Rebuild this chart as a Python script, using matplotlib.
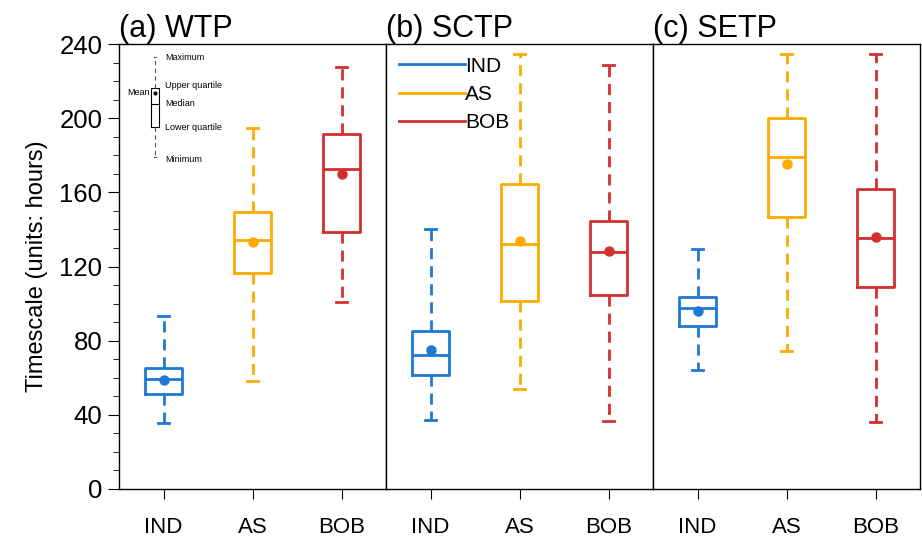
import numpy as np
from matplotlib import pyplot as plt
from matplotlib.lines import Line2D

plt.rcParams.update({
    "font.family": ["Liberation Sans", "DejaVu Sans"],
    "axes.linewidth": 1.0,
    "xtick.direction": "out",
    "ytick.direction": "out",
})

categories = ["IND", "AS", "BOB"]
colors = ["#1f78d2", "#ffaa00", "#d42f2f"]
panel_titles = ["(a) WTP", "(b) SCTP", "(c) SETP"]

# per panel, per category (IND, AS, BOB)
whis_hi = [[93.5, 194.9, 227.6], [140.2, 234.5, 228.7], [129.3, 234.5, 234.5]]
q3 = [[65.1, 149.6, 191.3], [85.4, 164.5, 144.7], [103.4, 200.0, 162.0]]
medians = [[59.2, 134.3, 172.4], [72.3, 132.0, 127.7], [97.5, 179.2, 135.2]]
means = [[59.0, 133.2, 169.9], [75.0, 133.8, 128.4], [96.2, 175.3, 136.1]]
q1 = [[51.1, 116.3, 138.6], [61.7, 101.4, 104.8], [87.9, 146.5, 108.8]]
whis_lo = [[35.6, 58.3, 100.9], [37.2, 54.1, 36.7], [64.2, 74.6, 36.0]]

# schematic key in panel (a)
key_stats = dict(whishi=233.0, q3=216.3, med=207.7, mean=213.6, q1=195.3, whislo=179.0)
key_labels = ["Maximum", "Upper quartile", "Median", "Lower quartile", "Minimum"]
key_label_y = [232.5, 217.5, 207.7, 195.0, 177.5]

fig = plt.figure(figsize=(9.22, 5.37), dpi=100)
left, bottom, w, h = 119 / 922, 48 / 537, 267 / 922, 445 / 537

axes = []
for p in range(3):
    ax = fig.add_axes([left + p * w, bottom, w, h])
    axes.append(ax)
    pos = np.arange(1, 4)
    for i in range(3):
        st = dict(med=medians[p][i], q1=q1[p][i], q3=q3[p][i],
                  whislo=whis_lo[p][i], whishi=whis_hi[p][i], mean=means[p][i])
        c = colors[i]
        ax.bxp([st], positions=[pos[i]], widths=0.41, capwidths=0.12,
               showmeans=True, showfliers=False,
               boxprops=dict(color=c, lw=2.0),
               medianprops=dict(color=c, lw=2.0),
               whiskerprops=dict(color=c, lw=2.0, linestyle=(0, (4, 2.5))),
               capprops=dict(color=c, lw=2.0),
               meanprops=dict(marker="o", markerfacecolor=c, markeredgecolor=c,
                              markersize=6.5))
    ax.set_title(panel_titles[p], loc="left", fontsize=22, pad=3)
    if p == 0:
        ax.set_yticks(np.arange(0, 241, 40))
        ax.set_yticks(np.arange(0, 241, 10), minor=True)
        ax.tick_params(axis="y", which="major", length=8, labelsize=18.5, pad=4)
        ax.tick_params(axis="y", which="minor", length=4)
        ax.set_ylabel("Timescale (units: hours)", fontsize=17, labelpad=8)
    else:
        ax.set_yticks([])

# key in panel (a)
ax = axes[0]
kx = 0.905
ax.bxp([key_stats], positions=[kx], widths=0.1, capwidths=0.03,
       showmeans=True, showfliers=False,
       boxprops=dict(color="black", lw=0.8),
       medianprops=dict(color="black", lw=0.8),
       whiskerprops=dict(color="#555555", lw=0.8, linestyle=(0, (4, 3))),
       capprops=dict(color="#555555", lw=0.8),
       meanprops=dict(marker="o", markerfacecolor="black", markeredgecolor="black",
                      markersize=2))
for lab, y in zip(key_labels, key_label_y):
    ax.text(kx + 0.11, y, lab, fontsize=6.5, va="center", ha="left")
ax.text(kx - 0.06, key_stats["mean"], "Mean", fontsize=6.5, va="center", ha="right")

for ax in axes:
    ax.set_xlim(0.5, 3.5)
    ax.set_ylim(0, 240)
    ax.set_xticks(np.arange(1, 4))
    ax.set_xticklabels(categories, fontsize=16)
    ax.tick_params(axis="x", length=7, pad=13)

# legend in panel (b)
handles = [Line2D([], [], color=c, lw=2.0) for c in colors]
axes[1].legend(handles, categories, loc="upper left", frameon=False, fontsize=15,
               handlelength=3.2, handletextpad=0.0, labelspacing=0.45,
               borderaxespad=0.2, bbox_to_anchor=(0.0, 1.0))

fig.savefig("out.png", dpi=100)
